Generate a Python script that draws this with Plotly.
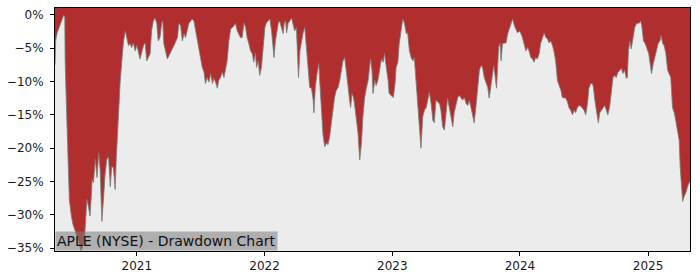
import plotly.graph_objects as go

# ---- data (drawdown in %) ----
days_2020 = ["05-12", "05-14", "05-18", "05-23", "05-30", "06-06", "06-09", "06-10", "06-14", "06-18",
             "06-22", "06-27", "07-02", "07-09", "07-19", "07-25", "07-30", "08-03", "08-07", "08-11",
             "08-16", "08-20", "08-24", "08-26", "08-30", "09-04", "09-09", "09-14", "09-18", "09-23",
             "09-28", "10-02", "10-07", "10-12", "10-17", "10-21", "10-26", "10-31", "11-03", "11-07",
             "11-10", "11-14", "11-19", "11-24", "11-29", "12-03", "12-08", "12-13", "12-17", "12-22",
             "12-27"]
dd_2020 = [-7.5, -3.8, -2.7, -1.9, -0.9, 0.0, -0.4, -6.9, -14.3, -20.3,
           -27.7, -29.9, -31.4, -32.5, -34.0, -35.4, -34.9, -34.3, -31.4, -27.7,
           -28.9, -30.2, -27.0, -24.7, -25.2, -21.7, -24.4, -20.7, -23.2, -31.0,
           -27.3, -24.0, -21.7, -21.3, -25.8, -22.8, -22.9, -26.2, -21.7, -16.8,
           -14.7, -10.3, -6.9, -3.9, -2.4, -3.4, -4.6, -4.3, -4.9, -4.2,
           -5.4]

days_2021 = ["01-01", "01-10", "01-20", "01-25", "01-29", "02-08", "02-12", "02-17", "02-22", "02-27",
             "03-03", "03-08", "03-13", "03-16", "03-19", "03-24", "03-29", "04-03", "04-08", "04-12",
             "04-17", "04-22", "04-27", "05-01", "05-06", "05-11", "05-16", "05-20", "05-25", "05-30",
             "06-04", "06-08", "06-13", "06-18", "06-23", "06-27", "07-02", "07-07", "07-12", "07-16",
             "07-21", "07-26", "07-31", "08-05", "08-09", "08-14", "08-19", "08-23", "08-28", "09-02",
             "09-07", "09-12", "09-16", "09-21", "09-26", "10-01", "10-05", "10-10", "10-15", "10-19",
             "10-24", "10-29", "11-03", "11-08", "11-12", "11-17", "11-22", "11-27", "12-01", "12-06",
             "12-09", "12-14", "12-18", "12-23", "12-28"]
dd_2021 = [-4.6, -6.6, -4.6, -4.2, -6.9, -5.8, -2.4, -0.9, -0.45, -1.3,
           -3.9, -3.4, -1.2, -0.9, -4.3, -5.4, -6.6, -6.1, -5.4, -5.1,
           -4.6, -3.9, -3.4, -1.3, -1.6, -3.9, -2.8, -3.4, -2.4, -1.2,
           -0.9, -0.6, -0.9, -2.4, -3.4, -4.9, -6.4, -7.9, -8.6, -10.3,
           -9.4, -10.1, -8.8, -10.3, -9.5, -10.1, -11.0, -9.8, -9.4, -8.6,
           -9.4, -7.9, -6.9, -3.9, -2.1, -1.9, -1.6, -1.3, -2.4, -2.8,
           -3.4, -3.4, -1.2, -1.9, -3.4, -4.3, -5.4, -5.8, -7.1, -5.7,
           -7.9, -6.9, -9.1, -7.9, -4.3]

days_2022 = ["01-02", "01-06", "01-11", "01-16", "01-21", "01-25", "01-28", "02-01", "02-05", "02-09",
             "02-13", "02-18", "02-23", "02-26", "03-02", "03-05", "03-09", "03-14", "03-19", "03-23",
             "03-28", "04-02", "04-05", "04-08", "04-12", "04-16", "04-21", "04-26", "04-30", "05-05",
             "05-10", "05-15", "05-20", "05-22", "05-26", "05-31", "06-05", "06-07", "06-12", "06-17",
             "06-22", "06-27", "07-01", "07-06", "07-11", "07-16", "07-20", "07-25", "07-30", "08-04",
             "08-08", "08-13", "08-18", "08-23", "08-28", "09-01", "09-04", "09-08", "09-12", "09-15",
             "09-20", "09-25", "09-30", "10-05", "10-09", "10-14", "10-19", "10-24", "10-28", "10-31",
             "11-04", "11-07", "11-12", "11-16", "11-21", "11-26", "12-01", "12-06", "12-10", "12-15",
             "12-20", "12-23", "12-29"]
dd_2022 = [-1.9, -1.2, -0.9, -0.6, -2.4, -4.3, -6.4, -3.9, -2.4, -1.3,
           -0.9, -1.9, -2.8, -1.3, -0.9, -2.7, -1.3, -0.9, -0.45, -1.3,
           -2.4, -1.9, -5.4, -9.4, -5.4, -3.9, -2.7, -1.9, -4.3, -7.9,
           -10.9, -11.0, -12.8, -14.7, -10.9, -8.8, -7.3, -9.4, -13.9, -18.0,
           -19.8, -19.2, -19.5, -18.3, -16.2, -13.9, -12.4, -11.3, -10.9, -9.8,
           -8.3, -6.9, -6.4, -8.3, -10.9, -12.8, -13.9, -11.8, -12.4, -13.3,
           -15.3, -17.7, -21.8, -19.2, -15.3, -12.4, -11.0, -9.8, -7.9, -6.6,
           -8.3, -11.8, -9.8, -10.6, -9.8, -8.3, -6.6, -7.1, -5.8, -7.9,
           -9.8, -11.8, -12.1]

days_2023 = ["01-04", "01-09", "01-12", "01-17", "01-21", "01-26", "01-31", "02-05", "02-10", "02-14",
             "02-19", "02-24", "03-01", "03-05", "03-10", "03-15", "03-19", "03-24", "03-29", "04-03",
             "04-08", "04-12", "04-17", "04-22", "04-27", "05-01", "05-06", "05-11", "05-16", "05-20",
             "05-25", "05-30", "06-04", "06-08", "06-13", "06-18", "06-23", "06-27", "07-02", "07-07",
             "07-12", "07-16", "07-21", "07-26", "07-31", "08-05", "08-09", "08-14", "08-19", "08-23",
             "08-28", "09-02", "09-07", "09-12", "09-16", "09-21", "09-26", "10-01", "10-05", "10-10",
             "10-15", "10-18", "10-21", "10-26", "10-29", "11-01", "11-05", "11-08", "11-12", "11-17",
             "11-22", "11-27", "12-01", "12-06", "12-11", "12-16", "12-20", "12-25", "12-30"]
dd_2023 = [-12.4, -10.3, -7.9, -7.1, -4.3, -2.4, -0.6, -1.3, -2.8, -2.7,
           -5.4, -6.4, -6.9, -6.4, -9.8, -12.8, -15.3, -20.0, -15.3, -14.3,
           -13.9, -12.8, -11.6, -13.3, -15.8, -16.2, -12.8, -13.1, -13.3, -14.3,
           -16.8, -17.3, -14.3, -12.5, -13.9, -15.3, -16.8, -14.7, -13.3, -12.4,
           -12.1, -12.5, -12.8, -12.4, -13.3, -13.6, -12.8, -13.9, -15.3, -16.2,
           -13.9, -11.3, -8.3, -7.6, -7.9, -9.4, -10.3, -10.9, -12.5, -10.3,
           -8.8, -7.6, -8.8, -11.0, -7.9, -4.9, -4.2, -6.9, -4.3, -4.2,
           -4.2, -2.8, -2.1, -1.3, -0.6, -1.6, -2.1, -2.7, -2.4]

days_2024 = ["01-03", "01-08", "01-13", "01-18", "01-23", "01-27", "02-01", "02-06", "02-10", "02-15",
             "02-20", "02-25", "02-29", "03-05", "03-10", "03-15", "03-20", "03-24", "03-29", "04-03",
             "04-07", "04-12", "04-17", "04-22", "04-27", "05-01", "05-06", "05-11", "05-16", "05-20",
             "05-25", "05-30", "06-04", "06-08", "06-13", "06-18", "06-23", "06-27", "07-02", "07-07",
             "07-12", "07-16", "07-21", "07-26", "07-29", "08-02", "08-07", "08-12", "08-16", "08-21",
             "08-25", "08-30", "09-04", "09-08", "09-13", "09-18", "09-23", "09-28", "10-02", "10-07",
             "10-12", "10-17", "10-21", "10-26", "10-31", "11-03", "11-06", "11-10", "11-14", "11-19",
             "11-24", "11-29", "12-03", "12-08", "12-11", "12-14", "12-19", "12-23", "12-28"]
dd_2024 = [-2.7, -3.4, -4.3, -5.4, -4.9, -5.4, -6.4, -6.6, -7.1, -6.4,
           -6.6, -5.8, -4.3, -3.4, -2.7, -3.4, -3.6, -4.2, -3.9, -4.6,
           -5.4, -6.9, -9.8, -10.6, -11.3, -12.4, -12.5, -12.5, -13.1, -13.9,
           -14.3, -15.0, -14.3, -14.7, -13.9, -13.6, -13.7, -14.0, -14.3, -15.0,
           -13.3, -11.0, -10.3, -10.3, -10.9, -12.8, -14.7, -16.2, -14.7, -14.3,
           -13.9, -13.6, -14.3, -15.0, -13.9, -11.3, -9.4, -9.1, -9.4, -8.6,
           -8.3, -8.0, -8.8, -8.3, -9.5, -9.4, -5.4, -3.9, -5.1, -3.4,
           -1.9, -1.3, -1.2, -1.2, -0.9, -1.6, -3.9, -4.2, -4.9]

days_2025 = ["01-03", "01-07", "01-11", "01-16", "01-21", "01-25", "01-30", "02-04", "02-07", "02-12",
             "02-16", "02-21", "02-26", "03-02", "03-07", "03-12", "03-17", "03-21", "03-26", "03-31",
             "04-03", "04-07", "04-10", "04-14", "04-19", "04-24", "04-28", "05-01"]
dd_2025 = [-5.8, -7.3, -8.8, -7.3, -6.4, -5.4, -4.3, -3.9, -3.1, -4.3,
           -4.6, -5.8, -8.3, -8.8, -9.4, -13.9, -14.7, -15.8, -17.7, -18.8,
           -22.8, -25.8, -28.0, -27.3, -26.7, -25.8, -25.2, -25.2]

y_tick_values = [0, -5, -10, -15, -20, -25, -30, -35]
y_tick_labels = ["0%", "\u22125%", "\u221210%", "\u221215%", "\u221220%", "\u221225%", "\u221230%", "\u221235%"]
x_tick_values = ["2021-01-01", "2022-01-01", "2023-01-01", "2024-01-01", "2025-01-01"]
x_tick_labels = ["2021", "2022", "2023", "2024", "2025"]
title_text = "APLE (NYSE) - Drawdown Chart"

# ---- assemble ----
per_year = [(2020, days_2020, dd_2020), (2021, days_2021, dd_2021), (2022, days_2022, dd_2022),
            (2023, days_2023, dd_2023), (2024, days_2024, dd_2024), (2025, days_2025, dd_2025)]
dates, dd = [], []
for yr, ds, vs in per_year:
    assert len(ds) == len(vs), (yr, len(ds), len(vs))
    dates += [f"{yr}-{d}" for d in ds]
    dd += vs

RED = "#b02e2e"
FONT = "DejaVu Sans"
Y_TOP = 1.04
Y_BOTTOM = -35.45

fig = go.Figure()
# invisible upper boundary so the red band reaches the top of the plot
fig.add_trace(go.Scatter(x=dates, y=[Y_TOP + 2] * len(dates), mode="lines",
                         line=dict(width=0, color=RED), hoverinfo="skip", showlegend=False))
fig.add_trace(go.Scatter(x=dates, y=dd, mode="lines", fill="tonexty", fillcolor=RED,
                         line=dict(color="rgba(125,125,125,0.85)", width=1),
                         showlegend=False))

axis_common = dict(showline=True, linecolor="black", linewidth=1, mirror=True,
                   ticks="outside", ticklen=4, tickwidth=1, tickcolor="black",
                   showgrid=False, zeroline=False,
                   tickfont=dict(family=FONT, size=12, color="#1a1a1a"))

fig.update_xaxes(type="date", range=[dates[0], dates[-1]],
                 tickvals=x_tick_values, ticktext=x_tick_labels, **axis_common)
fig.update_yaxes(range=[Y_BOTTOM, Y_TOP], tickvals=y_tick_values, ticktext=y_tick_labels,
                 ticklabelstandoff=4, **axis_common)

fig.add_annotation(text=title_text, xref="paper", yref="paper", x=0, y=0,
                   xanchor="left", yanchor="bottom", showarrow=False,
                   bgcolor="rgba(125,125,125,0.55)", borderpad=1,
                   font=dict(family=FONT, size=14, color="#111111"))

fig.update_layout(width=700, height=280,
                  margin=dict(l=53, r=10, t=7, b=28),
                  paper_bgcolor="white", plot_bgcolor="#ececec")

fig.write_html("out.html")
